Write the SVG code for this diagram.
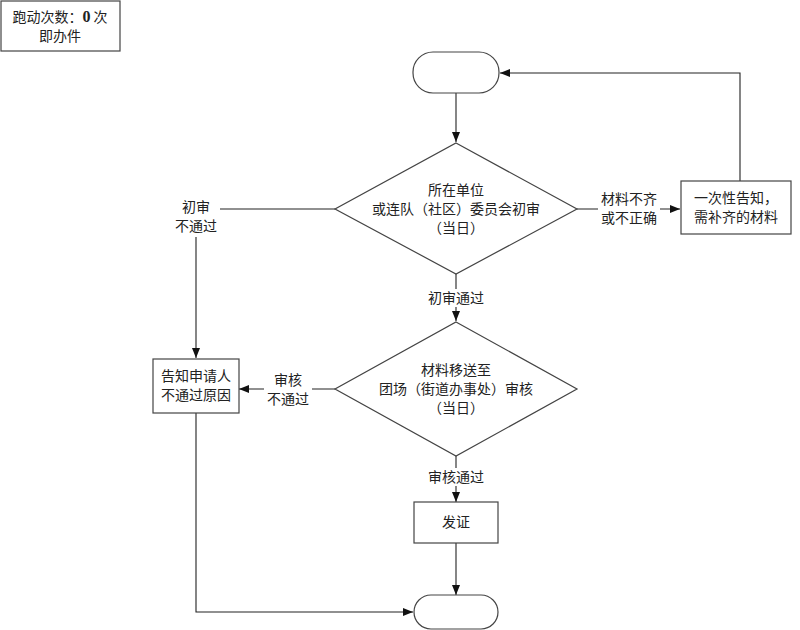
<svg xmlns="http://www.w3.org/2000/svg" width="800" height="630" viewBox="0 0 800 630">
<defs>
<marker id="ah" markerWidth="10" markerHeight="8" refX="10" refY="4" orient="auto" markerUnits="userSpaceOnUse">
<path d="M0,0 L10,4 L0,8 z" fill="#111"/>
</marker>
<style>
.shape{fill:#fff;stroke:#444;stroke-width:1.2}
.line{fill:none;stroke:#222;stroke-width:1.1}
text{font-family:"Noto Sans CJK SC","Noto Sans",sans-serif;font-size:14px;fill:#222;text-anchor:middle}
.bg{fill:#fff}
</style>
</defs>
<rect width="800" height="630" fill="#fff"/>
<g id="badge">
<rect class="shape" x="1" y="1" width="119" height="50"/>
<text x="60" y="22">跑动次数：<tspan font-family="Liberation Serif,serif" font-weight="bold" font-size="16">0</tspan> 次</text>
<text x="60" y="41">即办件</text>
</g>
<g id="connectors">
<line class="line" x1="456" y1="93" x2="456" y2="142" marker-end="url(#ah)"/>
<polyline class="line" points="740,181 740,73 500,73" marker-end="url(#ah)"/>
<line class="line" x1="577" y1="209" x2="680" y2="209" marker-end="url(#ah)"/>
<line class="line" x1="335" y1="209" x2="196" y2="209"/>
<line class="line" x1="196" y1="209" x2="196" y2="358" marker-end="url(#ah)"/>
<line class="line" x1="456" y1="274" x2="456" y2="321" marker-end="url(#ah)"/>
<line class="line" x1="335" y1="389" x2="239" y2="389" marker-end="url(#ah)"/>
<line class="line" x1="456" y1="456" x2="456" y2="502" marker-end="url(#ah)"/>
<line class="line" x1="456" y1="543" x2="456" y2="595" marker-end="url(#ah)"/>
<polyline class="line" points="196,413 196,612 413,612" marker-end="url(#ah)"/>
<rect class="bg" x="598" y="189" width="62" height="40"/>
<text x="629" y="204">材料不齐</text>
<text x="629" y="223">或不正确</text>
<rect class="bg" x="172" y="197" width="48" height="40"/>
<text x="196" y="212">初审</text>
<text x="196" y="231">不通过</text>
<rect class="bg" x="264" y="370" width="48" height="39"/>
<text x="288" y="385">审核</text>
<text x="288" y="404">不通过</text>
<rect class="bg" x="424" y="289" width="64" height="18"/>
<text x="456" y="303">初审通过</text>
<rect class="bg" x="424" y="468" width="64" height="18"/>
<text x="456" y="482">审核通过</text>
</g>
<g id="start">
<rect class="shape" x="413" y="52" width="86" height="41" rx="20" ry="20"/>
</g>
<g id="review1">
<polygon class="shape" points="456,143 577,209 456,274 335,209"/>
<text x="456" y="195">所在单位</text>
<text x="456" y="214">或连队（社区）委员会初审</text>
<text x="456" y="233">（当日）</text>
</g>
<g id="notify">
<rect class="shape" x="681" y="181" width="110" height="53"/>
<text x="736" y="203">一次性告知，</text>
<text x="736" y="222">需补齐的材料</text>
</g>
<g id="reject">
<rect class="shape" x="153" y="359" width="86" height="54"/>
<text x="196" y="381">告知申请人</text>
<text x="196" y="400">不通过原因</text>
</g>
<g id="review2">
<polygon class="shape" points="456,322 577,389 456,456 335,389"/>
<text x="456" y="375">材料移送至</text>
<text x="456" y="394">团场（街道办事处）审核</text>
<text x="456" y="413">（当日）</text>
</g>
<g id="issue">
<rect class="shape" x="414" y="502" width="84" height="41"/>
<text x="456" y="527">发证</text>
</g>
<g id="end">
<rect class="shape" x="414" y="595" width="84" height="34" rx="17" ry="17"/>
</g>
</svg>
